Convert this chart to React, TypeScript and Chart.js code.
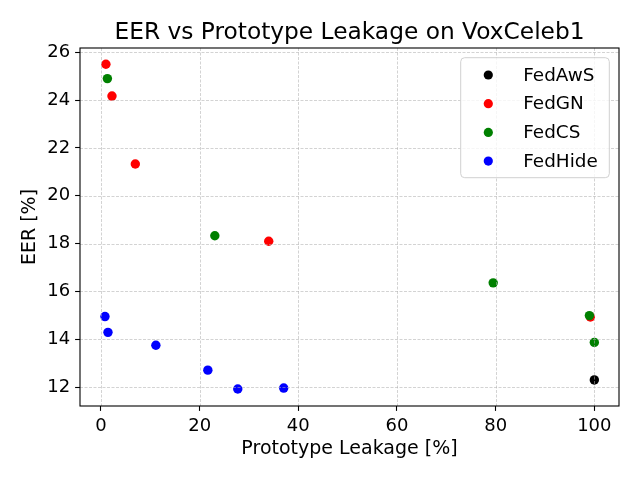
import { useEffect, useRef } from 'react';
import { Chart, registerables } from 'chart.js';

Chart.register(...registerables);

// Prototype leakage [%] (x) and EER [%] (y) per method
const fedAwsX = [100];
const fedAwsY = [12.3];
const fedGnX = [1.0, 2.23, 6.96, 34.0, 99.2];
const fedGnY = [25.5, 24.17, 21.33, 18.1, 14.93];
const fedCsX = [1.3, 23.08, 79.5, 99.0, 100];
const fedCsY = [24.9, 18.33, 16.36, 14.99, 13.87];
const fedHideX = [0.81, 1.42, 11.13, 21.66, 27.73, 37.04];
const fedHideY = [14.95, 14.29, 13.75, 12.71, 11.92, 11.96];

const seriesNames = ['FedAwS', 'FedGN', 'FedCS', 'FedHide'];
const seriesColors = ['#000000', '#ff0000', '#008000', '#0000ff'];

const xTicks = [0, 20, 40, 60, 80, 100];
const yTicks = [12, 14, 16, 18, 20, 22, 24, 26];

const FONT = "'DejaVu Sans', sans-serif";

const toPoints = (xs: number[], ys: number[]) => xs.map((x, i) => ({ x, y: ys[i] }));

// matplotlib-like extras: grid over the markers, full frame, title and an inset legend
const mplOverlay = {
  id: 'mplOverlay',
  afterDatasetsDraw(chart: any) {
    const { ctx, chartArea: a, scales } = chart;
    ctx.save();

    // dashed grid (drawn above the points, like the reference)
    ctx.beginPath();
    ctx.rect(a.left, a.top, a.right - a.left, a.bottom - a.top);
    ctx.clip();
    ctx.strokeStyle = 'rgba(176,176,176,0.8)';
    ctx.lineWidth = 0.7;
    ctx.setLineDash([3, 1.5]);
    xTicks.forEach((v) => {
      const x = Math.round(scales.x.getPixelForValue(v)) + 0.5;
      ctx.beginPath();
      ctx.moveTo(x, a.top);
      ctx.lineTo(x, a.bottom);
      ctx.stroke();
    });
    yTicks.forEach((v) => {
      const y = Math.round(scales.y.getPixelForValue(v)) + 0.5;
      ctx.beginPath();
      ctx.moveTo(a.left, y);
      ctx.lineTo(a.right, y);
      ctx.stroke();
    });
    ctx.restore();

    ctx.save();
    // frame
    ctx.strokeStyle = '#000';
    ctx.lineWidth = 1.1;
    ctx.strokeRect(a.left, a.top, a.right - a.left, a.bottom - a.top);

    // title
    ctx.fillStyle = '#000';
    ctx.font = `23.3px ${FONT}`;
    ctx.textAlign = 'center';
    ctx.textBaseline = 'alphabetic';
    ctx.fillText('EER vs Prototype Leakage on VoxCeleb1', (a.left + a.right) / 2, 39.3);

    // legend
    const boxW = 148.6;
    const boxH = 120;
    const boxR = a.right - 9.7;
    const boxL = boxR - boxW;
    const boxT = a.top + 9.7;
    ctx.beginPath();
    ctx.roundRect(boxL, boxT, boxW, boxH, 4);
    ctx.fillStyle = 'rgba(255,255,255,0.8)';
    ctx.fill();
    ctx.strokeStyle = '#d0d0d0';
    ctx.lineWidth = 1;
    ctx.stroke();
    ctx.font = `18.4px ${FONT}`;
    ctx.textAlign = 'left';
    ctx.textBaseline = 'middle';
    seriesNames.forEach((name, i) => {
      const y = boxT + 17.3 + i * 28.7;
      ctx.beginPath();
      ctx.arc(boxL + 27.6, y, 4.6, 0, Math.PI * 2);
      ctx.fillStyle = seriesColors[i];
      ctx.fill();
      ctx.fillStyle = '#000';
      ctx.fillText(name, boxL + 62.6, y + 1);
    });
    ctx.restore();
  },
};

const App = () => {
  const chartRef = useRef<HTMLCanvasElement>(null);
  const chartInstance = useRef<Chart | null>(null);

  useEffect(() => {
    if (!chartRef.current) return;
    if (chartInstance.current) chartInstance.current.destroy();

    const ctx = chartRef.current.getContext('2d');
    if (!ctx) return;

    const series = [
      toPoints(fedAwsX, fedAwsY),
      toPoints(fedGnX, fedGnY),
      toPoints(fedCsX, fedCsY),
      toPoints(fedHideX, fedHideY),
    ];

    chartInstance.current = new Chart(ctx, {
      type: 'scatter',
      data: {
        datasets: series.map((data, i) => ({
          label: seriesNames[i],
          data,
          backgroundColor: seriesColors[i],
          borderColor: seriesColors[i],
          pointRadius: 4.7,
          pointHoverRadius: 4.7,
          pointBorderWidth: 0,
          order: seriesNames.length - i, // later series on top
        })),
      },
      options: {
        responsive: false,
        animation: false,
        events: [],
        layout: { padding: { top: 48, right: 21, left: 0, bottom: 0 } },
        plugins: {
          legend: { display: false },
          tooltip: { enabled: false },
          title: { display: false },
        },
        scales: {
          x: {
            type: 'linear',
            min: -4.25,
            max: 105,
            afterBuildTicks: (scale: any) => {
              scale.ticks = xTicks.map((value) => ({ value }));
            },
            afterFit: (scale: any) => {
              scale.height = 74;
            },
            ticks: {
              color: '#000',
              padding: 4.9,
              font: { family: FONT, size: 18 },
              callback: (v: any) => String(v),
            },
            grid: {
              drawOnChartArea: false,
              drawTicks: true,
              tickLength: 4.9,
              tickColor: '#000',
              tickWidth: 1.1,
            },
            border: { display: false },
            title: {
              display: true,
              text: 'Prototype Leakage [%]',
              color: '#000',
              font: { family: FONT, size: 19 },
              padding: { top: 0, bottom: 20 },
            },
          },
          y: {
            type: 'linear',
            min: 11.21,
            max: 26.18,
            afterBuildTicks: (scale: any) => {
              scale.ticks = yTicks.map((value) => ({ value }));
            },
            afterFit: (scale: any) => {
              scale.width = 80;
            },
            ticks: {
              color: '#000',
              padding: 4.9,
              font: { family: FONT, size: 18 },
              callback: (v: any) => String(v),
            },
            grid: {
              drawOnChartArea: false,
              drawTicks: true,
              tickLength: 4.9,
              tickColor: '#000',
              tickWidth: 1.1,
            },
            border: { display: false },
            title: {
              display: true,
              text: 'EER [%]',
              color: '#000',
              font: { family: FONT, size: 19 },
              padding: { top: 18.5, bottom: 0 },
            },
          },
        },
      },
      plugins: [mplOverlay],
    });

    return () => {
      if (chartInstance.current) {
        chartInstance.current.destroy();
        chartInstance.current = null;
      }
    };
  }, []);

  return (
    <div style={{ position: 'fixed', left: 0, top: 0, width: 640, height: 480, background: '#fff' }}>
      <canvas ref={chartRef} width={640} height={480}></canvas>
    </div>
  );
};

export default App;
